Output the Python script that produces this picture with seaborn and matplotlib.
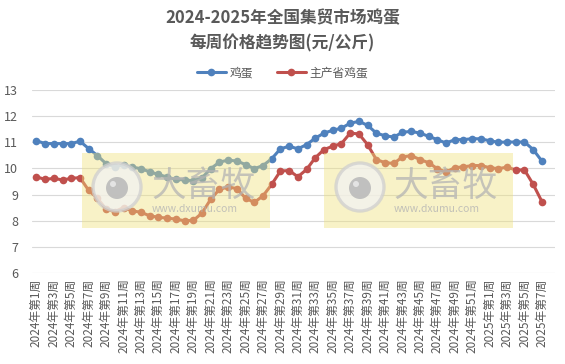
import numpy as np
import pandas as pd
import matplotlib
matplotlib.use("Agg")
import matplotlib.pyplot as plt
import matplotlib.patches as mpatches
from matplotlib.lines import Line2D
import seaborn as sns

# 周次标签
weeks_2024 = [f"2024年第{i}周" for i in range(1, 53)]
weeks_2025 = [f"2025年第{i}周" for i in range(1, 8)]
week_labels = weeks_2024 + weeks_2025

# 鸡蛋 (元/公斤)
egg = [11.06, 10.95, 10.95, 10.95, 10.95, 11.04, 10.76, 10.49, 10.18, 10.06,
       10.13, 10.05, 9.99, 9.87, 9.77, 9.67, 9.58, 9.56, 9.53, 9.64,
       9.99, 10.24, 10.32, 10.28, 10.15, 9.99, 10.11, 10.37, 10.75, 10.85,
       10.75, 10.91, 11.16, 11.35, 11.46, 11.54, 11.73, 11.80, 11.65, 11.35,
       11.25, 11.20, 11.38, 11.42, 11.35, 11.23, 11.10, 10.97, 11.10, 11.10,
       11.14, 11.13, 11.06, 11.00, 11.01, 11.01, 11.01, 10.72, 10.28]

# 主产省鸡蛋 (元/公斤)
egg_main = [9.68, 9.58, 9.62, 9.56, 9.62, 9.65, 9.16, 8.86, 8.44, 8.35,
            8.50, 8.38, 8.32, 8.19, 8.13, 8.10, 8.06, 8.00, 8.01, 8.29,
            8.82, 9.20, 9.29, 9.23, 8.86, 8.70, 8.95, 9.39, 9.90, 9.92,
            9.68, 9.96, 10.41, 10.72, 10.85, 10.95, 11.35, 11.32, 10.91, 10.34,
            10.22, 10.19, 10.44, 10.49, 10.34, 10.22, 9.99, 9.86, 10.03, 10.06,
            10.11, 10.11, 10.03, 9.99, 10.05, 9.94, 9.94, 9.39, 8.73]

series_names = ["鸡蛋", "主产省鸡蛋"]
colors = ["#4f81bd", "#c0504d"]

df = pd.DataFrame({
    "idx": list(range(len(week_labels))) * 2,
    "price": egg + egg_main,
    "series": [series_names[0]] * len(egg) + [series_names[1]] * len(egg_main),
})

sns.set_style("white")
plt.rcParams["font.family"] = ["Noto Sans CJK SC", "DejaVu Sans"]
plt.rcParams["axes.unicode_minus"] = False

fig = plt.figure(figsize=(5.65, 3.64), dpi=100)
ax = fig.add_axes([32 / 565, 1 - 273 / 364, 523 / 565, 183 / 364])

sns.lineplot(data=df, x="idx", y="price", hue="series", palette=colors,
             marker="o", markersize=5.5, markeredgewidth=0, linewidth=2.2,
             legend=False, ax=ax, zorder=3)

ax.set_xlim(-0.5, len(week_labels) + 0.5)
ax.set_ylim(6, 13)
ax.set_yticks(range(6, 14))
ax.set_xticks(range(0, len(week_labels), 2))
ax.set_xticklabels(week_labels[::2], rotation=90)
ax.tick_params(axis="x", labelsize=8.5, colors="#595959", length=0, pad=4)
ax.tick_params(axis="y", labelsize=9, colors="#595959", length=0, pad=10)
ax.set_xlabel("")
ax.set_ylabel("")
ax.grid(axis="y", color="#d9d9d9", linewidth=0.8)
ax.set_axisbelow(True)
for s in ax.spines.values():
    s.set_visible(False)

fig.text(0.5, 1 - 18 / 364, "2024-2025年全国集贸市场鸡蛋", ha="center", va="center",
         fontsize=12, fontweight="bold", color="#595959")
fig.text(0.5, 1 - 43 / 364, "每周价格趋势图(元/公斤)", ha="center", va="center",
         fontsize=12, fontweight="bold", color="#595959")

handles = [Line2D([0], [0], color=c, lw=2.2, marker="o", markersize=5.5, markeredgewidth=0)
           for c in colors]
fig.legend(handles, series_names, loc="center", bbox_to_anchor=(0.5, 1 - 73 / 364),
           ncol=2, frameon=False, fontsize=8.5, labelcolor="#595959",
           handlelength=2.5, columnspacing=2.0, handletextpad=0.3)

# 水印
W, H = 565, 364
def fx(px):
    return px / W
def fy(py):
    return 1 - py / H

for x0, x1, cx, tx in [(82, 270, 117, 152), (324, 513, 360, 394)]:
    ax.add_patch(mpatches.Rectangle((fx(x0), fy(228)), fx(x1) - fx(x0), fy(153) - fy(228),
                                    transform=fig.transFigure, facecolor="#f0e27a",
                                    alpha=0.42, edgecolor="none", zorder=5, clip_on=False))
    ax.add_patch(mpatches.Ellipse((fx(cx), fy(187)), 48 / W, 48 / H, transform=fig.transFigure,
                                  facecolor="#f2f2f2", edgecolor="#cfcfcf", lw=2.4,
                                  alpha=0.75, zorder=6, clip_on=False))
    ax.add_patch(mpatches.Ellipse((fx(cx), fy(188)), 22 / W, 22 / H, transform=fig.transFigure,
                                  facecolor="#b8b8b8", edgecolor="none",
                                  alpha=0.85, zorder=7, clip_on=False))
    ax.add_patch(mpatches.Ellipse((fx(cx - 4), fy(184)), 6 / W, 6 / H, transform=fig.transFigure,
                                  facecolor="#e8e8e8", edgecolor="none",
                                  alpha=0.9, zorder=8, clip_on=False))
    fig.text(fx(tx), fy(186), "大畜牧", ha="left", va="center", fontsize=25,
             fontweight="medium", color="#b4b4b4", alpha=0.75, zorder=7)
    fig.text(fx(tx), fy(209), "www.dxumu.com", ha="left", va="center", fontsize=7.5,
             color="#b4b4b4", alpha=0.8, zorder=7)

fig.savefig("out.png", dpi=100)
